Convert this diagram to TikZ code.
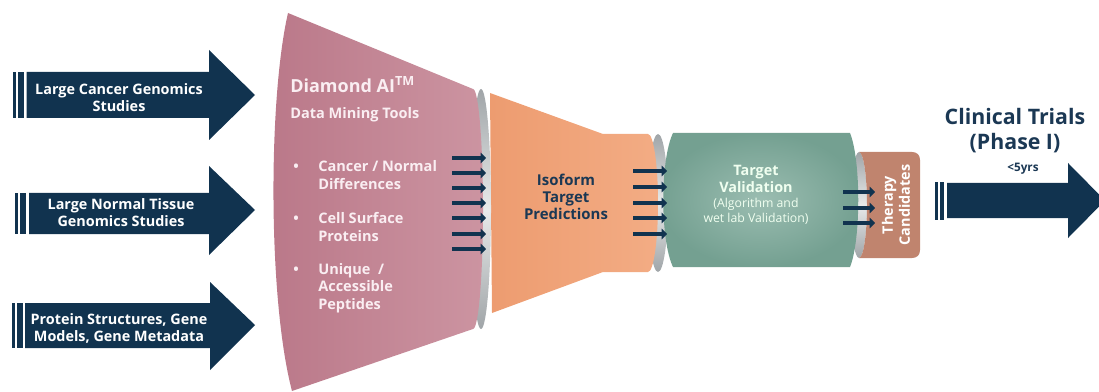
\documentclass[tikz,border=0pt]{standalone}
\usepackage{fontspec}
\setmainfont{Open Sans}
\usetikzlibrary{arrows.meta}

\definecolor{navy}{RGB}{17,51,79}
\definecolor{navytext}{RGB}{27,56,84}
\definecolor{pinkD}{RGB}{186,120,137}
\definecolor{pinkL}{RGB}{204,148,161}
\definecolor{pinktext}{RGB}{250,238,242}
\definecolor{orangeD}{RGB}{237,156,112}
\definecolor{orangeL}{RGB}{243,172,132}
\definecolor{greenD}{RGB}{116,160,145}
\definecolor{greenL}{RGB}{155,189,177}
\definecolor{brownT}{RGB}{192,132,110}
\definecolor{capD}{RGB}{160,165,168}
\definecolor{capL}{RGB}{232,234,234}

\tikzset{
  navyfill/.style={fill=navy},
  graycap/.style={top color=capD, bottom color=capD, middle color=capL},
  srclabel/.style={text=white, font=\bfseries\fontsize{10.8}{12.8}\selectfont, align=center, inner sep=0.75pt},
  pinklabel/.style={text=pinktext, font=\bfseries\fontsize{10.9}{13}\selectfont, align=left, inner sep=0.75pt},
  feed/.style={navy, line width=3.7pt, -{Triangle[length=4pt,width=8pt]}},
}

\begin{document}
\begin{tikzpicture}[x=0.75pt,y=0.75pt,yscale=-1,xscale=1]
\useasboundingbox (0,0) rectangle (1099,392);

%Shape: Right Arrow (cancer studies)
\fill[navyfill] (13,72) rectangle (15.7,118);
\fill[navyfill] (17.7,72) rectangle (23.5,118);
\fill[navyfill] (26.7,72) -- (209,72) -- (209,50) -- (255,95) -- (209,140) -- (209,118) -- (26.7,118) -- cycle;
%Shape: Right Arrow (normal tissue)
\fill[navyfill] (15,193) rectangle (18,234);
\fill[navyfill] (20,193) rectangle (26,234);
\fill[navyfill] (29,193) -- (209,193) -- (209,166) -- (255,210) -- (209,255) -- (209,234) -- (29,234) -- cycle;
%Shape: Right Arrow (protein structures)
\fill[navyfill] (12,303) rectangle (15,348);
\fill[navyfill] (17,303) rectangle (23,348);
\fill[navyfill] (25,303) -- (210,303) -- (210,282) -- (255,325) -- (210,370) -- (210,348) -- (25,348) -- cycle;

%Shape: end cap behind the orange stage
\shade[graycap] (658,203) ellipse [x radius=10, y radius=69];
%Shape: Isoform stage
\shade[left color=orangeD, right color=orangeL] (490,93) -- (603,134) -- (648,134) arc [start angle=-90, end angle=90, x radius=10, y radius=69] -- (603,272) -- (492,313) -- cycle;
%Shape: end cap of the funnel
\shade[graycap] (481,209) ellipse [x radius=10, y radius=120];
%Shape: Diamond AI funnel
\shade[left color=pinkD, right color=pinkL] (288,13) -- (473,89) arc [start angle=-90, end angle=90, x radius=10, y radius=120] -- (292,391) .. controls (268,300) and (268,100) .. (288,13) -- cycle;
%Shape: end cap of the validation stage
\shade[graycap] (859,205) ellipse [x radius=8, y radius=53];
%Shape: Target validation barrel
\shade[inner color=greenL, outer color=greenD] (673,133) -- (850,133) .. controls (861,160) and (861,240) .. (850,267) -- (673,267) .. controls (660,240) and (660,160) .. (673,133) -- cycle;
%Shape: Therapy candidates
\fill[brownT] (859,152) -- (912,152) .. controls (917,152) and (920,155) .. (920,160) -- (920,250) .. controls (920,255) and (917,258) .. (912,258) -- (859,258) arc [start angle=90, end angle=-90, x radius=8, y radius=53] -- cycle;

%Shape: Right Arrow (clinical trials)
\fill[navyfill] (935,182) rectangle (938,220);
\fill[navyfill] (940,182) rectangle (943.5,220);
\fill[navyfill] (947,183) -- (1068,183) -- (1068,163) -- (1105,200.5) -- (1068,238) -- (1068,218) -- (947,218) -- cycle;

%Straight Lines: small feed arrows
\foreach \y in {158,173,188,203,218,234,249}
  \draw[feed] (452,\y) -- (486,\y);
\foreach \y in {171,187,203,218,234}
  \draw[feed] (633,\y) -- (667,\y);
\foreach \y in {192,208,223}
  \draw[feed] (843,\y) -- (875,\y);

% Text Node
\node[srclabel] (cancer) at (119,98) {Large Cancer Genomics\\Studies};
% Text Node
\node[srclabel] (normal) at (121,213) {Large Normal Tissue\\Genomics Studies};
% Text Node
\node[srclabel] (protein) at (119,328) {Protein Structures, Gene\\Models, Gene Metadata};

% Text Node
\node[pinklabel, anchor=west, font=\bfseries\fontsize{13.5}{15}\selectfont] (diamond) at (289,85) {Diamond AI\textsuperscript{TM}};
% Text Node
\node[pinklabel, anchor=west] (mining) at (289,115) {Data Mining Tools};
% Text Node
\node[pinklabel] (dot1) at (296,168) {\textbullet};
\node[pinklabel, anchor=west] (differences) at (317,175) {Cancer / Normal\\Differences};
% Text Node
\node[pinklabel] (dot2) at (296,220) {\textbullet};
\node[pinklabel, anchor=west] (surface) at (317,227) {Cell Surface\\Proteins};
% Text Node
\node[pinklabel] (dot3) at (296,271) {\textbullet};
\node[pinklabel, anchor=west] (peptides) at (317,288) {Unique\ \ /\\Accessible\\Peptides};

% Text Node
\node[srclabel, text=navytext, font=\bfseries\fontsize{11.2}{13}\selectfont] (isoform) at (566,197) {Isoform\\Target\\Predictions};

% Text Node
\node[srclabel, text=white!94!green] (validation) at (756,179) {Target\\Validation};
% Text Node
\node[srclabel, text=white!94!green, font=\fontsize{9.2}{11.3}\selectfont] (algorithm) at (756,211) {(Algorithm and\\wet lab Validation)};

% Text Node
\node[srclabel, rotate=90] (therapy) at (896,205) {Therapy\\Candidates};

% Text Node
\node[srclabel, text=navytext, font=\bfseries\fontsize{16}{18.8}\selectfont] (trials) at (1015,131) {Clinical Trials\\(Phase I)};
% Text Node
\node[srclabel, text=navytext, font=\bfseries\fontsize{8.8}{9}\selectfont] (years) at (1023,169) {<5yrs};

\end{tikzpicture}
\end{document}
